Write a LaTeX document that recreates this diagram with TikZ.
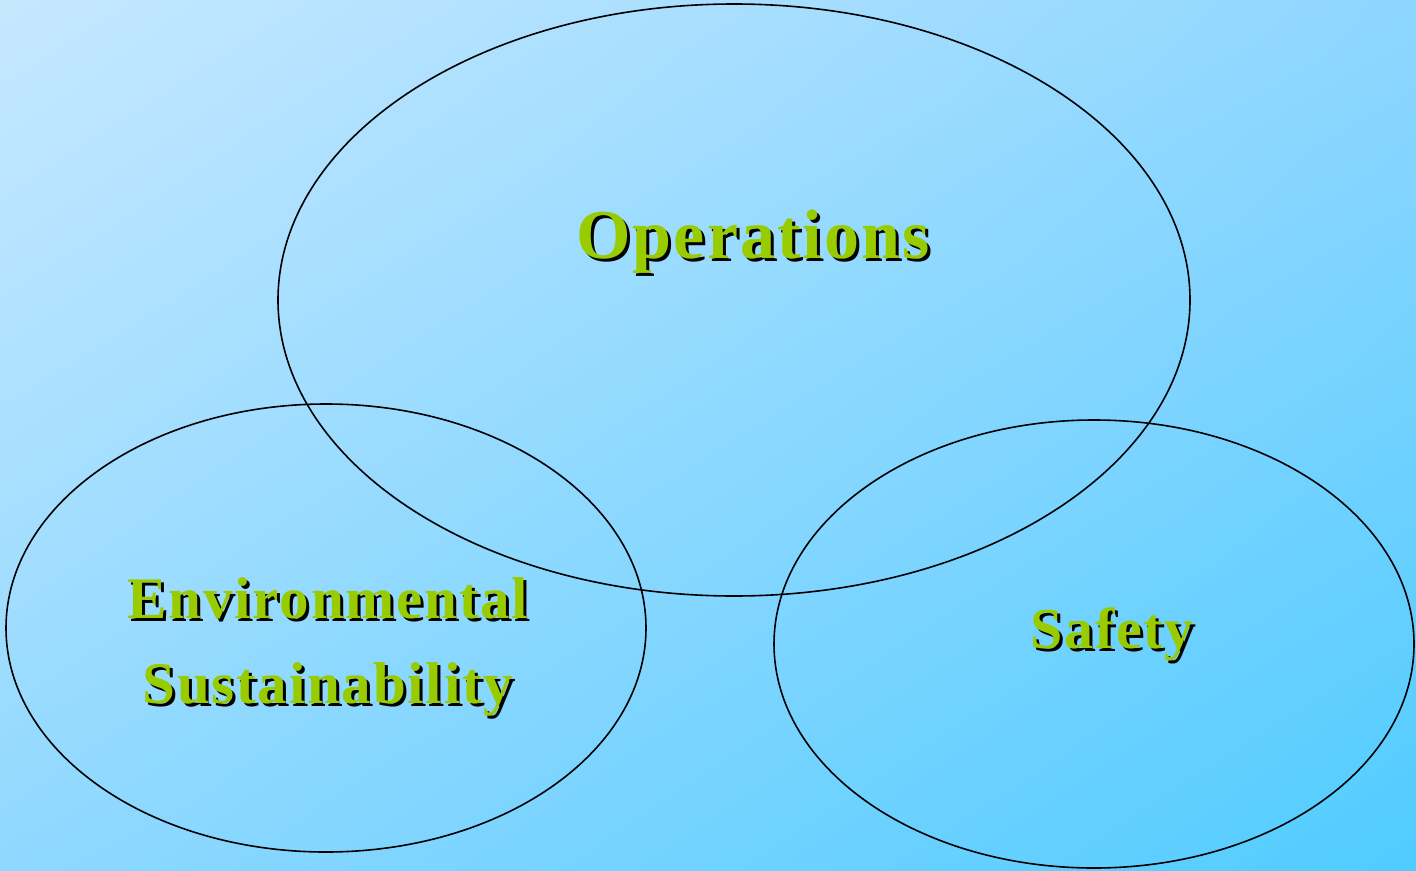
\documentclass[tikz,border=0pt]{standalone}
\usepackage{fontspec}
\usetikzlibrary{shadings}
\setmainfont{Liberation Serif}
\newfontfamily\labelfont[LetterSpace=3.0]{Liberation Serif}
\definecolor{bgtl}{HTML}{C6E8FF}
\definecolor{bgtr}{HTML}{8ED6FF}
\definecolor{bgbl}{HTML}{90D8FF}
\definecolor{bgbr}{HTML}{50CCFF}
\definecolor{leaf}{HTML}{99CC00}
% green lettering with a black drop shadow down and to the right
\newcommand{\dropshadow}[1]{%
  \makebox[0pt][l]{\hspace{3pt}\raisebox{-3pt}{\color{black}#1}}%
  {\color{leaf}#1}}
\begin{document}
\begin{tikzpicture}[x=1pt,y=-1pt,
  ring/.style={draw=black,line width=1.6pt},
  caption/.style={font=\labelfont\bfseries\fontsize{#1}{#1}\selectfont,
    align=center,inner sep=0pt}]
  % background with diagonal gradient
  \shade[upper left=bgtl,upper right=bgtr,lower left=bgbl,lower right=bgbr]
    (0,0) rectangle (1416,870);
  \useasboundingbox (0,0) rectangle (1416,870);
  % the three sets
  \draw[ring] (734,300) ellipse [x radius=456, y radius=-296];
  \draw[ring] (326,628) ellipse [x radius=320, y radius=-224];
  \draw[ring] (1094,644) ellipse [x radius=320, y radius=-224];
  % labels
  \node[caption=70] (ops) at (753,243) {\dropshadow{Operations}};
  \node[caption=59] (env) at (328,648)
    {\dropshadow{Environmental}\\[26pt]\dropshadow{Sustainability}};
  \node[caption=58] (saf) at (1112,636) {\dropshadow{Safety}};
\end{tikzpicture}
\end{document}
